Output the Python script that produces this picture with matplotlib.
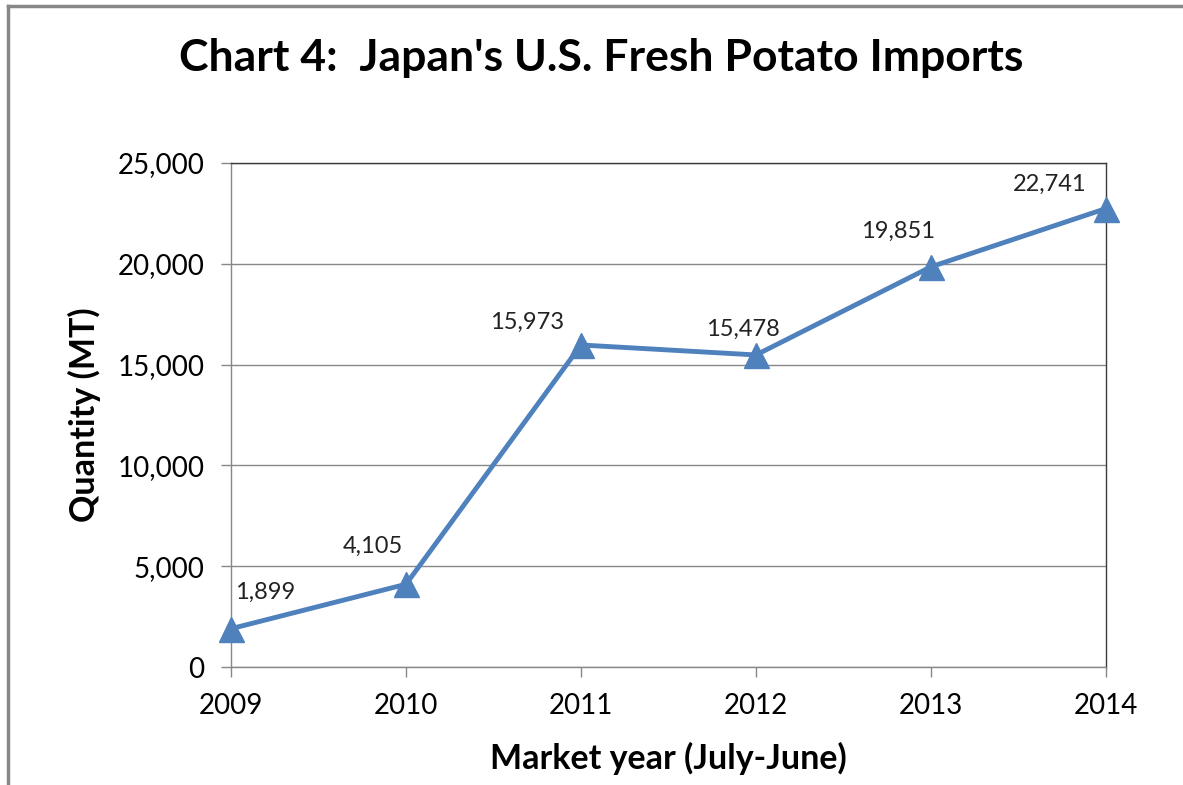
import matplotlib.pyplot as plt
import matplotlib.lines as lines
from matplotlib.ticker import FuncFormatter

# data
years = [2009, 2010, 2011, 2012, 2013, 2014]
quantity = [1899, 4105, 15973, 15478, 19851, 22741]

# label offsets (pixels) relative to each point
label_dx = [34, -33, -54, -13, -33, -56]
label_dy = [36, 38, 23, 26, 35, 24]

plt.rcParams['font.family'] = ['Lato', 'DejaVu Sans']

fig = plt.figure(figsize=(11.83, 7.85), dpi=100)
ax = fig.add_axes([231/1183, 1 - 667/785, (1106 - 231)/1183, (667 - 163)/785])

blue = '#4F81BD'
ax.plot(years, quantity, color=blue, lw=3.5, marker='^', markersize=18,
        clip_on=False, zorder=3)

for x, y, dx, dy in zip(years, quantity, label_dx, label_dy):
    ax.annotate("{:,}".format(y), (x, y), xytext=(dx, dy),
                textcoords='offset pixels', ha='center', va='center',
                fontsize=17, color='#222222')

ax.set_xlim(2009, 2014)
ax.set_ylim(0, 25000)
ax.set_xticks(years)
ax.set_yticks(range(0, 25001, 5000))
ax.yaxis.set_major_formatter(FuncFormatter(lambda v, p: "{:,}".format(int(v))))

ax.grid(axis='y', color='#878787', lw=1)
ax.set_axisbelow(True)
for side in ['left', 'bottom']:
    ax.spines[side].set_color('#878787')
for side in ['top', 'right']:
    ax.spines[side].set_color('#3a3a3a')
for s in ax.spines.values():
    s.set_linewidth(1)

ax.tick_params(axis='both', direction='out', length=7, width=1,
               color='#878787', labelsize=20, pad=12)

ax.set_xlabel("Market year (July-June)", fontsize=24.5, fontweight='bold', labelpad=16)
ax.set_ylabel("Quantity (MT)", fontsize=24.5, fontweight='bold', labelpad=12)

fig.text(601/1183, 1 - 58/785, "Chart 4:  Japan's U.S. Fresh Potato Imports",
         ha='center', va='center', fontsize=32, fontweight='bold')

# outer chart border (left and top only visible)
fig.add_artist(lines.Line2D([7.5/1183, 7.5/1183], [0, 1 - 5.5/785],
                            color='#888888', lw=2.5))
fig.add_artist(lines.Line2D([7.5/1183, 1], [1 - 5.5/785, 1 - 5.5/785],
                            color='#888888', lw=2.5))

plt.savefig("out.png", dpi=100)
